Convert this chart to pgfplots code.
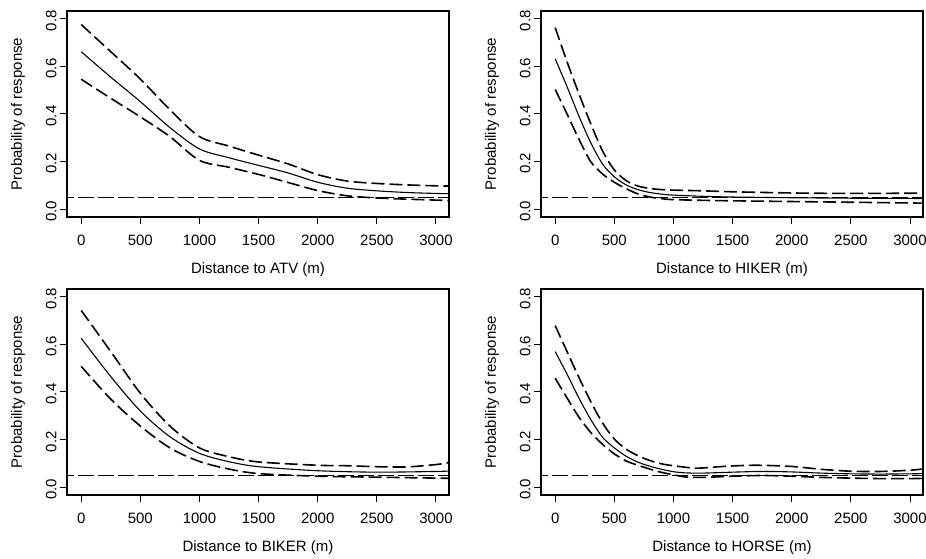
\documentclass[border=0pt]{standalone}
\usepackage{fontspec}
\setmainfont{Liberation Sans}
\usepackage{pgfplots}
\pgfplotsset{compat=1.18}

\pgfplotsset{
  panel/.style={
    scale only axis, width=382pt, height=206pt, anchor=south west,
    xmin=-120, xmax=3110, ymin=-0.033, ymax=0.833,
    xtick={0,500,1000,1500,2000,2500,3000},
    ytick={0,0.2,0.4,0.6,0.8},
    tick pos=left, tick align=outside, major tick length=7pt,
    tick style={line width=1pt, black},
    axis line style={line width=1.3pt},
    scaled ticks=false,
    /pgf/number format/assume math mode=true,
    xticklabel style={yshift=-7pt, /pgf/number format/fixed, /pgf/number format/1000 sep={}},
    yticklabel style={rotate=90, anchor=south, xshift=-2pt, /pgf/number format/fixed,
      /pgf/number format/fixed zerofill, /pgf/number format/precision=1},
    ticklabel style={font=\fontsize{15}{18}\selectfont},
    label style={font=\fontsize{15}{18}\selectfont},
    xlabel style={at={([yshift=-53pt]axis description cs:0.5,0)}, anchor=center},
    ylabel style={at={([xshift=-49pt]axis description cs:0,0.5)}, anchor=center},
    ylabel={Probability of response},
  },
  fit/.style={black, line width=1.1pt, smooth},
  ci/.style={black, line width=1.6pt, smooth, dash pattern=on 13pt off 5pt},
  ref/.style={black, line width=1pt, dash pattern=on 16pt off 4pt},
}

\begin{document}
\begin{tikzpicture}
\useasboundingbox (0,0) rectangle (926pt,559pt);

% ATV
\begin{axis}[panel, at={(67pt,342pt)}, xlabel={Distance to ATV (m)}]
\addplot[ref] coordinates {(-200,0.05) (3200,0.05)};
\addplot[ci] coordinates {(0,0.776) (250,0.662) (500,0.547) (750,0.418) (1000,0.305) (1250,0.265) (1500,0.227) (1750,0.19) (2000,0.145) (2250,0.118) (2500,0.108) (2750,0.102) (3000,0.098) (3120,0.097)};
\addplot[fit] coordinates {(0,0.662) (250,0.555) (500,0.452) (750,0.343) (1000,0.253) (1250,0.216) (1500,0.184) (1750,0.152) (2000,0.113) (2250,0.088) (2500,0.077) (2750,0.07) (3000,0.066) (3120,0.065)};
\addplot[ci] coordinates {(0,0.546) (250,0.466) (500,0.388) (750,0.305) (1000,0.205) (1250,0.176) (1500,0.146) (1750,0.112) (2000,0.078) (2250,0.056) (2500,0.047) (2750,0.042) (3000,0.038) (3120,0.036)};
\end{axis}

% HIKER
\begin{axis}[panel, at={(541pt,342pt)}, xlabel={Distance to HIKER (m)}]
\addplot[ref] coordinates {(-200,0.05) (3200,0.05)};
\addplot[ci] coordinates {(0,0.763) (100,0.62) (200,0.486) (300,0.36) (400,0.245) (500,0.165) (600,0.12) (700,0.097) (800,0.087) (900,0.082) (1000,0.08) (1250,0.077) (1500,0.073) (2000,0.068) (2500,0.066) (3000,0.067) (3120,0.067)};
\addplot[fit] coordinates {(0,0.632) (100,0.515) (200,0.392) (300,0.28) (400,0.19) (500,0.136) (600,0.102) (700,0.082) (800,0.07) (900,0.063) (1000,0.059) (1250,0.054) (1500,0.051) (2000,0.048) (2500,0.046) (3000,0.045) (3120,0.045)};
\addplot[ci] coordinates {(0,0.503) (100,0.4) (200,0.295) (300,0.2) (400,0.148) (500,0.113) (600,0.086) (700,0.064) (800,0.051) (900,0.044) (1000,0.04) (1250,0.037) (1500,0.035) (2000,0.032) (2500,0.029) (3000,0.026) (3120,0.025)};
\end{axis}

% BIKER
\begin{axis}[panel, at={(67pt,64pt)}, xlabel={Distance to BIKER (m)}]
\addplot[ref] coordinates {(-200,0.05) (3200,0.05)};
\addplot[ci] coordinates {(0,0.743) (250,0.57) (500,0.395) (750,0.257) (1000,0.165) (1250,0.128) (1500,0.106) (2000,0.092) (2250,0.09) (2500,0.086) (2750,0.085) (3000,0.095) (3120,0.104)};
\addplot[fit] coordinates {(0,0.626) (250,0.465) (500,0.32) (750,0.212) (1000,0.142) (1250,0.107) (1500,0.086) (2000,0.069) (2500,0.063) (3000,0.066) (3120,0.068)};
\addplot[ci] coordinates {(0,0.508) (250,0.37) (500,0.257) (750,0.165) (1000,0.108) (1250,0.076) (1500,0.057) (2000,0.046) (2500,0.042) (3000,0.038) (3120,0.037)};
\end{axis}

% HORSE
\begin{axis}[panel, at={(541pt,64pt)}, xlabel={Distance to HORSE (m)}]
\addplot[ref] coordinates {(-200,0.05) (3200,0.05)};
\addplot[ci] coordinates {(0,0.679) (100,0.57) (200,0.462) (300,0.36) (400,0.27) (500,0.202) (600,0.16) (700,0.132) (800,0.112) (900,0.098) (1000,0.09) (1200,0.08) (1450,0.088) (1700,0.092) (2000,0.087) (2250,0.075) (2500,0.067) (2750,0.066) (3000,0.071) (3120,0.077)};
\addplot[fit] coordinates {(0,0.57) (100,0.475) (200,0.375) (300,0.285) (400,0.21) (500,0.165) (600,0.13) (700,0.105) (800,0.088) (900,0.075) (1000,0.065) (1100,0.06) (1250,0.059) (1500,0.063) (1750,0.066) (2000,0.064) (2250,0.059) (2500,0.056) (2750,0.055) (3000,0.056) (3120,0.057)};
\addplot[ci] coordinates {(0,0.458) (100,0.375) (200,0.295) (300,0.23) (400,0.18) (500,0.14) (600,0.11) (700,0.092) (800,0.076) (900,0.062) (1000,0.052) (1100,0.043) (1250,0.041) (1500,0.046) (1750,0.049) (2000,0.046) (2250,0.041) (2500,0.038) (2750,0.036) (3000,0.036) (3120,0.037)};
\end{axis}
\end{tikzpicture}
\end{document}
